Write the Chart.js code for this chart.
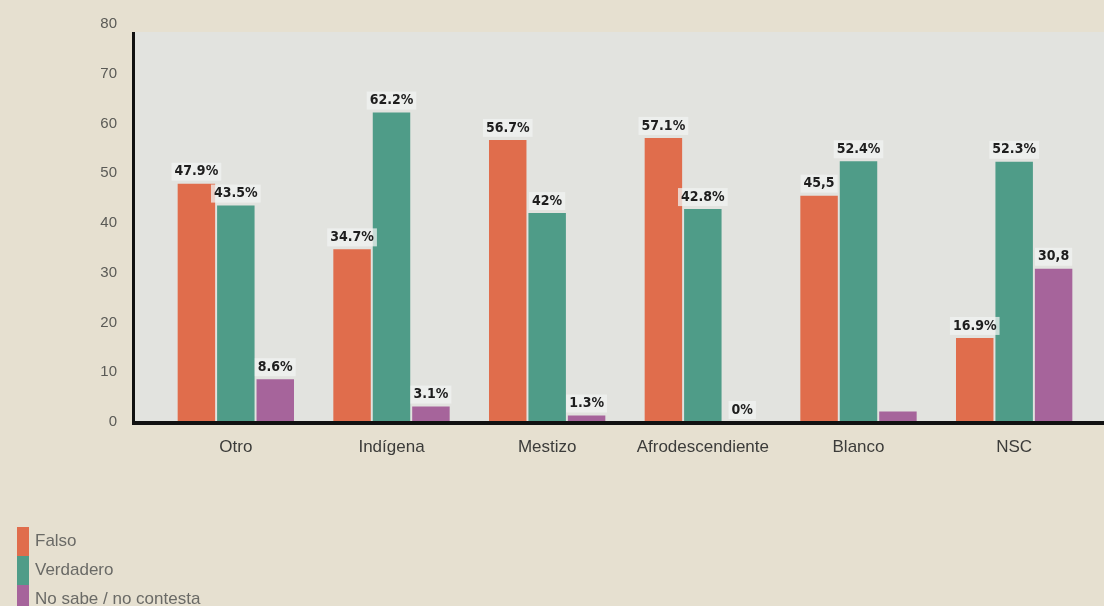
<!DOCTYPE html>
<html lang="es">
<head>
<meta charset="UTF-8">
<title>Falso / Verdadero por grupo</title>
<script src="https://cdn.jsdelivr.net/npm/chart.js"></script>
<style>
  html, body { margin: 0; padding: 0; background: #e6e0d0; }
  #wrap { width: 1104px; height: 606px; position: relative; }
</style>
</head>
<body>
<div id="wrap"><canvas id="chart" width="1104" height="606"></canvas></div>
<script>
// data
const categories = ['Otro', 'Indígena', 'Mestizo', 'Afrodescendiente', 'Blanco', 'NSC'];
const falso      = [47.9, 34.7, 56.7, 57.1, 45.5, 16.9];
const verdadero  = [43.5, 62.2, 42.0, 42.8, 52.4, 52.3];
const noSabe     = [8.6, 3.1, 1.3, 0, 2.1, 30.8];
// value labels as printed on the chart
const falsoText     = ['47.9%', '34.7%', '56.7%', '57.1%', '45,5', '16.9%'];
const verdaderoText = ['43.5%', '62.2%', '42%', '42.8%', '52.4%', '52.3%'];
const noSabeText    = ['8.6%', '3.1%', '1.3%', '0%', '', '30,8'];
const yTicks = [0, 10, 20, 30, 40, 50, 60, 70, 80];

const FONT = '"Liberation Sans", Arial, sans-serif';
const NARROW = '"Liberation Sans Narrow", "DejaVu Sans Condensed", "Liberation Sans", sans-serif';

// grey plot panel + black axis lines
const panel = {
  id: 'panel',
  beforeDatasetsDraw(chart) {
    const { ctx, scales } = chart;
    const top = scales.y.getPixelForValue(78.4);
    const bottom = scales.y.getPixelForValue(0);
    ctx.save();
    ctx.fillStyle = '#e2e3df';
    ctx.fillRect(133, top, chart.width - 133, bottom - top);
    ctx.restore();
  },
  afterDatasetsDraw(chart) {
    const { ctx, scales } = chart;
    const top = scales.y.getPixelForValue(78.4);
    const bottom = scales.y.getPixelForValue(0);
    ctx.save();
    ctx.strokeStyle = '#111';
    ctx.lineWidth = 3;
    ctx.beginPath();
    ctx.moveTo(133.5, top);
    ctx.lineTo(133.5, bottom + 2);
    ctx.stroke();
    ctx.lineWidth = 4;
    ctx.beginPath();
    ctx.moveTo(132, bottom + 1);
    ctx.lineTo(chart.width, bottom + 1);
    ctx.stroke();
    ctx.restore();
  }
};

// value labels above the bars
const valueLabels = {
  id: 'valueLabels',
  afterDatasetsDraw(chart) {
    const { ctx } = chart;
    ctx.save();
    ctx.font = 'bold 14px ' + NARROW;
    ctx.textAlign = 'center';
    ctx.textBaseline = 'middle';
    chart.data.datasets.forEach((ds, i) => {
      chart.getDatasetMeta(i).data.forEach((bar, j) => {
        const txt = ds.valueText[j];
        if (!txt) return;
        const y = bar.y - 12;
        const w = ctx.measureText(txt).width;
        ctx.fillStyle = 'rgba(240,243,241,0.75)';
        ctx.fillRect(bar.x - w / 2 - 3, y - 9, w + 6, 18);
        ctx.fillStyle = '#1e1e1e';
        ctx.fillText(txt, bar.x, y);
      });
    });
    ctx.restore();
  }
};

// stacked legend at the bottom left
const stackedLegend = {
  id: 'stackedLegend',
  afterDraw(chart) {
    const { ctx } = chart;
    ctx.save();
    ctx.font = '17px ' + FONT;
    ctx.textBaseline = 'middle';
    chart.data.datasets.forEach((ds, i) => {
      const y0 = 527 + i * 29;
      ctx.fillStyle = ds.backgroundColor;
      ctx.fillRect(17, y0, 12, 29);
      ctx.fillStyle = '#6a6a66';
      ctx.fillText(ds.label, 35, y0 + 14);
    });
    ctx.restore();
  }
};

new Chart(document.getElementById('chart'), {
  type: 'bar',
  data: {
    labels: categories,
    datasets: [
      { label: 'Falso', data: falso, valueText: falsoText, backgroundColor: '#e06d4c' },
      { label: 'Verdadero', data: verdadero, valueText: verdaderoText, backgroundColor: '#4f9c88' },
      { label: 'No sabe / no contesta', data: noSabe, valueText: noSabeText, backgroundColor: '#a6649b' }
    ]
  },
  options: {
    responsive: false,
    animation: false,
    layout: { padding: { top: 24, right: 12, left: 0, bottom: 0 } },
    datasets: { bar: { categoryPercentage: 0.76, barPercentage: 0.95 } },
    plugins: {
      legend: { display: false },
      tooltip: { enabled: false }
    },
    scales: {
      x: {
        grid: { display: false, drawTicks: false },
        border: { display: false },
        ticks: { color: '#3c3c3a', font: { family: FONT, size: 17 }, padding: 15, maxRotation: 0 },
        afterFit(scale) { scale.height = 184; }
      },
      y: {
        min: 0,
        max: 80,
        grid: { display: false, drawTicks: false },
        border: { display: false },
        afterBuildTicks(scale) { scale.ticks = yTicks.map(v => ({ value: v })); },
        ticks: { color: '#5a5a56', font: { family: FONT, size: 15 }, padding: 41 },
        afterFit(scale) {
          scale.width = 158;
          scale.paddingTop = 0;
          scale.paddingBottom = 0;
        }
      }
    }
  },
  plugins: [panel, valueLabels, stackedLegend]
});
</script>
</body>
</html>
